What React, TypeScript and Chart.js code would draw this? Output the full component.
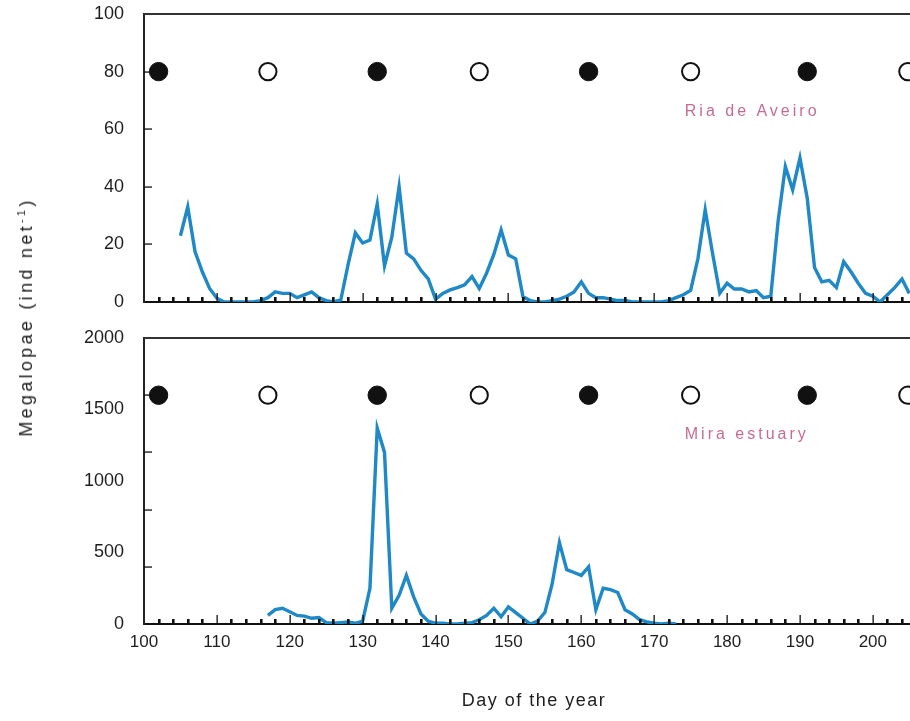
import React, { useEffect, useRef } from 'react';
import { Chart, registerables } from 'chart.js';

Chart.register(...registerables);

// ---- data ----
const aveiroFirstDay = 105;
const aveiroValues = [
  23, 33, 17.5, 10.5, 4.7, 1.3, 0, 0, 0, 0,
  0, 0.5, 1.5, 3.5, 3, 3, 1.5, 2.5, 3.5, 1.5,
  0.5, 0, 0.7, 13, 24, 20.5, 21.5, 34, 12.5, 22.5,
  40, 17, 15, 11, 8, 1, 3, 4.2, 5, 6,
  8.8, 4.7, 10, 16.5, 25, 16.3, 15, 1.8, 0.5, 0,
  0, 0.5, 1, 2, 3.5, 7, 3, 1.5, 1.5, 1,
  0.5, 0.5, 0, 0, 0, 0, 0, 0.5, 1.5, 2.5,
  4, 15, 32, 17, 3, 6.5, 4.5, 4.5, 3.5, 4,
  1.5, 2, 28, 47, 39, 50, 36, 12, 7, 7.5,
  5, 14, 10.5, 6.5, 3, 2, 0, 2.5, 5, 8,
  3,
];
const miraFirstDay = 117;
const miraValues = [
  60, 100, 110, 85, 60, 55, 40, 45, 10, 5,
  10, 15, 5, 20, 250, 1370, 1200, 110, 200, 340,
  190, 70, 20, 5, 5, 0, 0, 5, 10, 30,
  60, 110, 50, 120, 80, 40, 0, 20, 80, 280,
  570, 380, 360, 340, 400, 100, 250, 240, 220, 100,
  70, 30, 15, 5, 0, 5, 0,
];
const filledMoonDays = [102, 132, 161, 191];
const openMoonDays = [117, 146, 175, 204.8];
const aveiroMoonLevel = 80;
const miraMoonLevel = 1600;

const xMin = 100;
const xMax = 205.1;
const xTickLabels = [100, 110, 120, 130, 140, 150, 160, 170, 180, 190, 200];
const aveiroYMarks = [20, 40, 60, 80];
const miraYMarks = [400, 800, 1200, 1600];

const aveiroLabel = { text: 'Ria de Aveiro', day: 174.2, value: 66 };
const miraLabel = { text: 'Mira estuary', day: 174.2, value: 1325 };

const LINE_COLOR = '#1f88c7';
const TEXT_COLOR = '#1e1e1e';
const LABEL_COLOR = '#c86b92';
const FONT = "'Liberation Sans', Arial, sans-serif";

function makeFramePlugin(yMarks: number[], label: { text: string; day: number; value: number }) {
  return {
    id: 'frameTicks',
    afterDatasetsDraw(chart: any) {
      const { ctx, chartArea, scales } = chart;
      const xs = scales.x;
      const ys = scales.y;
      ctx.save();
      // top frame line
      ctx.strokeStyle = '#333';
      ctx.lineWidth = 2;
      ctx.beginPath();
      ctx.moveTo(chartArea.left, chartArea.top);
      ctx.lineTo(chartArea.right, chartArea.top);
      ctx.stroke();
      // x ticks, pointing inward
      ctx.fillStyle = '#111';
      for (let d = xMin + 2; d < xMax; d += 2) {
        const px = xs.getPixelForValue(d);
        if (d % 10 === 0) {
          ctx.fillRect(Math.round(px) - 0.5, chartArea.bottom - 9, 1.3, 9);
        } else {
          ctx.fillRect(Math.round(px) - 1, chartArea.bottom - 5, 2.6, 5);
        }
      }
      // y ticks, pointing inward
      for (const v of yMarks) {
        const py = ys.getPixelForValue(v);
        ctx.fillRect(chartArea.left, Math.round(py) - 0.6, 8, 1.3);
      }
      // panel label
      ctx.fillStyle = LABEL_COLOR;
      ctx.font = `16px ${FONT}`;
      (ctx as any).letterSpacing = '3px';
      ctx.textAlign = 'left';
      ctx.textBaseline = 'middle';
      ctx.fillText(label.text, xs.getPixelForValue(label.day), ys.getPixelForValue(label.value));
      ctx.restore();
    },
  };
}

function buildConfig(opts: {
  firstDay: number;
  values: number[];
  moonLevel: number;
  yMax: number;
  yStep: number;
  yMarks: number[];
  showXLabels: boolean;
  padTop: number;
  xHeight: number;
  label: { text: string; day: number; value: number };
}): any {
  const lineData = opts.values.map((v, i) => ({ x: opts.firstDay + i, y: v }));
  const filled = filledMoonDays.map((d) => ({ x: d, y: opts.moonLevel }));
  const open = openMoonDays.map((d) => ({ x: d, y: opts.moonLevel }));
  return {
    type: 'line',
    data: {
      datasets: [
        {
          data: lineData,
          borderColor: LINE_COLOR,
          borderWidth: 3.4,
          pointRadius: 0,
          tension: 0,
          borderJoinStyle: 'miter',
          fill: false,
        },
        {
          type: 'scatter',
          data: filled,
          pointRadius: 9.2,
          pointBackgroundColor: '#111',
          pointBorderColor: '#111',
          pointBorderWidth: 1,
          showLine: false,
          clip: false,
        },
        {
          type: 'scatter',
          data: open,
          pointRadius: 8.6,
          pointBackgroundColor: '#fff',
          pointBorderColor: '#111',
          pointBorderWidth: 2,
          showLine: false,
          clip: false,
        },
      ],
    },
    options: {
      animation: false,
      responsive: false,
      maintainAspectRatio: false,
      layout: { autoPadding: false, padding: { top: opts.padTop, left: 0, right: 0, bottom: 0 } },
      plugins: { legend: { display: false }, tooltip: { enabled: false }, title: { display: false } },
      scales: {
        x: {
          type: 'linear',
          min: xMin,
          max: xMax,
          grid: { display: false },
          border: { display: true, color: '#111', width: 2 },
          afterBuildTicks: (scale: any) => {
            scale.ticks = xTickLabels.map((v) => ({ value: v }));
          },
          afterFit: (scale: any) => {
            scale.height = opts.xHeight;
            scale.paddingLeft = 0;
            scale.paddingRight = 0;
          },
          ticks: {
            display: opts.showXLabels,
            padding: 0,
            maxRotation: 0,
            autoSkip: false,
            color: TEXT_COLOR,
            font: { family: FONT, size: 17 },
            callback: (v: any) => String(v),
          },
        },
        y: {
          type: 'linear',
          min: 0,
          max: opts.yMax,
          grid: { display: false },
          border: { display: true, color: '#222', width: 2 },
          afterFit: (scale: any) => {
            scale.width = 144;
            scale.paddingTop = 0;
            scale.paddingBottom = 0;
          },
          ticks: {
            stepSize: opts.yStep,
            padding: 12,
            color: TEXT_COLOR,
            font: { family: FONT, size: 18 },
            callback: (v: any) => String(v),
          },
        },
      },
    },
    plugins: [makeFramePlugin(opts.yMarks, opts.label)],
  };
}

function Panel(props: { cfg: any; top: number; height: number }) {
  const ref = useRef<HTMLCanvasElement | null>(null);
  useEffect(() => {
    if (!ref.current) return;
    const chart = new Chart(ref.current, props.cfg);
    return () => chart.destroy();
  }, []);
  return (
    <canvas
      ref={ref}
      width={910}
      height={props.height}
      style={{ position: 'absolute', left: 0, top: props.top, width: 910, height: props.height }}
    />
  );
}

export default function App() {
  const topCfg = buildConfig({
    firstDay: aveiroFirstDay,
    values: aveiroValues,
    moonLevel: aveiroMoonLevel,
    yMax: 100,
    yStep: 20,
    yMarks: aveiroYMarks,
    showXLabels: false,
    padTop: 14,
    xHeight: 10,
    label: aveiroLabel,
  });
  const bottomCfg = buildConfig({
    firstDay: miraFirstDay,
    values: miraValues,
    moonLevel: miraMoonLevel,
    yMax: 2000,
    yStep: 500,
    yMarks: miraYMarks,
    showXLabels: true,
    padTop: 18,
    xHeight: 97,
    label: miraLabel,
  });
  return (
    <div
      style={{
        position: 'absolute',
        left: 0,
        top: 0,
        width: 910,
        height: 721,
        background: '#fff',
        overflow: 'hidden',
      }}
    >
      <Panel cfg={topCfg} top={0} height={312} />
      <Panel cfg={bottomCfg} top={320} height={401} />
      <div
        style={{
          position: 'absolute',
          left: 26,
          top: 317,
          transform: 'translate(-50%, -50%) rotate(-90deg)',
          whiteSpace: 'nowrap',
          fontFamily: FONT,
          fontSize: 18,
          letterSpacing: '3.3px',
          color: TEXT_COLOR,
        }}
      >
        Megalopae (ind net<sup style={{ fontSize: 11 }}>-1</sup>)
      </div>
      <div
        style={{
          position: 'absolute',
          left: 534,
          top: 700,
          transform: 'translate(-50%, -50%)',
          whiteSpace: 'nowrap',
          fontFamily: FONT,
          fontSize: 18,
          letterSpacing: '1.5px',
          color: TEXT_COLOR,
        }}
      >
        Day of the year
      </div>
    </div>
  );
}
